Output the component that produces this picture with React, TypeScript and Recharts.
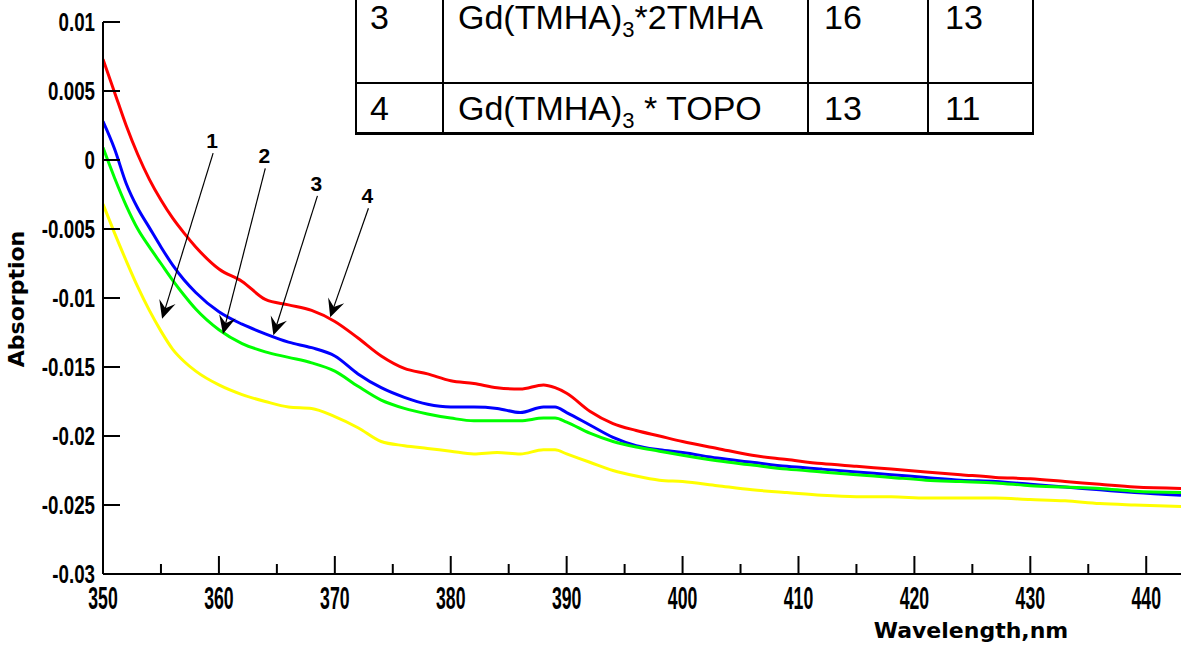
import React from 'react';
import { LineChart, Line, XAxis, YAxis, ReferenceLine } from 'recharts';

const wavelengths = [
  350, 351, 352, 353, 354, 355, 356, 357, 358, 360, 362, 364, 366, 368, 370, 372, 374, 376, 378, 380,
  382, 384, 386, 388, 389, 390, 392, 394, 396, 398, 400, 403, 406, 409, 412, 415, 418, 421, 424, 427,
  430, 433, 436, 439, 443,
];

// curve 1 (yellow)
const curve1 = [
  -0.0032, -0.0053, -0.0073, -0.0092, -0.0109, -0.0124, -0.0137, -0.0146, -0.0153, -0.0163, -0.017,
  -0.0175, -0.0179, -0.018, -0.0186, -0.0194, -0.0204, -0.0207, -0.0209, -0.0211, -0.0213, -0.0212,
  -0.0213, -0.021, -0.021, -0.0213, -0.0219, -0.0225, -0.0229, -0.0232, -0.0233, -0.0236, -0.0239,
  -0.0241, -0.0243, -0.0244, -0.0244, -0.0245, -0.0245, -0.0245, -0.0246, -0.0247, -0.0249, -0.025,
  -0.0251,
];

// curve 2 (green)
const curve2 = [
  0.0009, -0.0013, -0.0033, -0.005, -0.0063, -0.0075, -0.0087, -0.0098, -0.0108, -0.0123, -0.0133,
  -0.0139, -0.0143, -0.0147, -0.0153, -0.0164, -0.0174, -0.018, -0.0184, -0.0187, -0.0189, -0.0189,
  -0.0189, -0.0187, -0.0187, -0.019, -0.0198, -0.0204, -0.0208, -0.0211, -0.0214, -0.0218, -0.0221,
  -0.0224, -0.0226, -0.0228, -0.023, -0.0232, -0.0233, -0.0234, -0.0236, -0.0237, -0.0238, -0.024,
  -0.0241,
];

// curve 3 (blue)
const curve3 = [
  0.0028, 0.0008, -0.0017, -0.0035, -0.0049, -0.0063, -0.0076, -0.0087, -0.0096, -0.011, -0.0119,
  -0.0126, -0.0132, -0.0136, -0.0142, -0.0155, -0.0165, -0.0172, -0.0177, -0.0179, -0.0179, -0.018,
  -0.0183, -0.0179, -0.0179, -0.0183, -0.0192, -0.0201, -0.0207, -0.021, -0.0212, -0.0216, -0.0219,
  -0.0222, -0.0224, -0.0226, -0.0228, -0.023, -0.0232, -0.0233, -0.0235, -0.0237, -0.0239, -0.0241,
  -0.0243,
];

// curve 4 (red)
const curve4 = [
  0.0073, 0.0049, 0.0025, 0.0004, -0.0014, -0.0029, -0.0042, -0.0053, -0.0063, -0.0079, -0.0088,
  -0.0101, -0.0105, -0.0109, -0.0117, -0.0129, -0.0142, -0.0151, -0.0155, -0.016, -0.0162, -0.0165,
  -0.0166, -0.0163, -0.0165, -0.0169, -0.0182, -0.0191, -0.0196, -0.02, -0.0204, -0.0209, -0.0214,
  -0.0217, -0.022, -0.0222, -0.0224, -0.0226, -0.0228, -0.023, -0.0231, -0.0233, -0.0235, -0.0237,
  -0.0238,
];

const xTicks = [350, 355, 360, 365, 370, 375, 380, 385, 390, 395, 400, 405, 410, 415, 420, 425, 430, 435, 440];
const yTicks = [0.01, 0.005, 0, -0.005, -0.01, -0.015, -0.02, -0.025, -0.03];

// arrows pointing at the curves
const arrowLabels = ['1', '2', '3', '4'];
const arrowFromX = [359.5, 364.0, 368.5, 372.9];
const arrowFromY = [0.0005, -0.0006, -0.0026, -0.0035];
const arrowToX = [355.1, 360.35, 364.7, 369.6];
const arrowToY = [-0.0115, -0.0126, -0.0127, -0.0114];

// table in the top right
const tableNo = ['3', '4'];
const tableLigand = ['*2TMHA', ' * TOPO'];
const tableColA = ['16', '13'];
const tableColB = ['13', '11'];

const data = wavelengths.map((w, i) => ({
  w,
  c1: curve1[i],
  c2: curve2[i],
  c3: curve3[i],
  c4: curve4[i],
}));

const tickFont = '"Liberation Sans", Arial, sans-serif';

const XTick = (props: any) => {
  const { x, y, payload } = props;
  const major = payload.value % 10 === 0;
  return (
    <g>
      <line x1={x} y1={y} x2={x} y2={y - (major ? 18 : 10)} stroke="#000" strokeWidth={2} />
      {major && (
        <text
          transform={`translate(${x} ${y + 35}) scale(0.57 1)`}
          textAnchor="middle"
          fontFamily={tickFont}
          fontWeight="bold"
          fontSize={31}
          fill="#000"
        >
          {payload.value}
        </text>
      )}
    </g>
  );
};

const YTick = (props: any) => {
  const { x, y, payload } = props;
  return (
    <g>
      <line x1={x} y1={y} x2={x + 17} y2={y} stroke="#000" strokeWidth={2} />
      <text
        transform={`translate(${x - 8} ${y + 9}) scale(0.75 1)`}
        textAnchor="end"
        fontFamily={tickFont}
        fontWeight="bold"
        fontSize={25}
        fill="#000"
      >
        {String(payload.value)}
      </text>
    </g>
  );
};

const YTitle = (props: any) => {
  const { x, y, width, height } = props.viewBox;
  const cx = x + width - 87;
  const cy = y + height / 2 + 1;
  return (
    <text
      x={cx}
      y={cy}
      transform={`rotate(-90 ${cx} ${cy})`}
      textAnchor="middle"
      dy="0.36em"
      fontFamily='"DejaVu Sans", sans-serif'
      fontWeight="bold"
      fontSize={22}
      fill="#000"
    >
      Absorption
    </text>
  );
};

const XTitle = (props: any) => {
  const { x, y, width } = props.viewBox;
  return (
    <text
      x={x + width - 210}
      y={y + 64}
      textAnchor="middle"
      fontFamily='"DejaVu Sans", sans-serif'
      fontWeight="bold"
      fontSize={22}
      fill="#000"
    >
      Wavelength,nm
    </text>
  );
};

function renderArrow(p: any, label: string) {
  const { x1, y1, x2, y2 } = p;
  const a = Math.atan2(y2 - y1, x2 - x1);
  const deg = (a * 180) / Math.PI;
  const bx = x2 - Math.cos(a) * 10;
  const by = y2 - Math.sin(a) * 10;
  return (
    <g>
      <line x1={x1} y1={y1} x2={bx} y2={by} stroke="#000" strokeWidth={1.2} />
      <polygon points="0,0 -18,-8.5 -11,0 -18,8.5" transform={`translate(${x2} ${y2}) rotate(${deg})`} fill="#000" />
      <text
        x={x1 - 1}
        y={y1 - 5}
        textAnchor="middle"
        fontFamily={tickFont}
        fontWeight="bold"
        fontSize={21}
        fill="#000"
      >
        {label}
      </text>
    </g>
  );
}

const vLines = [356, 443, 808, 928, 1033];
const cellLeft = [370, 458, 824, 945];
const rowTop = [2, 93];

export default function App() {
  return (
    <div
      style={{
        position: 'absolute',
        left: 0,
        top: 0,
        width: 1186,
        height: 645,
        background: '#fff',
        overflow: 'hidden',
      }}
    >
      <LineChart width={1186} height={645} data={data} margin={{ top: 22, right: 5, bottom: 0, left: 0 }}>
        <XAxis
          dataKey="w"
          type="number"
          domain={[350, 443]}
          ticks={xTicks}
          interval={0}
          height={71}
          tickSize={0}
          tickMargin={0}
          tickLine={false}
          axisLine={{ stroke: '#000', strokeWidth: 2 }}
          tick={<XTick />}
          label={{ content: XTitle }}
          allowDataOverflow
        />
        <YAxis
          type="number"
          domain={[-0.03, 0.01]}
          ticks={yTicks}
          interval={0}
          width={103}
          tickSize={0}
          tickMargin={0}
          tickLine={false}
          axisLine={{ stroke: '#000', strokeWidth: 2 }}
          tick={<YTick />}
          label={{ content: YTitle }}
          allowDataOverflow
        />
        <Line type="monotone" dataKey="c3" stroke="#0000ff" strokeWidth={3} dot={false} isAnimationActive={false} />
        <Line type="monotone" dataKey="c2" stroke="#00ff00" strokeWidth={3} dot={false} isAnimationActive={false} />
        <Line type="monotone" dataKey="c4" stroke="#ff0000" strokeWidth={3} dot={false} isAnimationActive={false} />
        <Line type="monotone" dataKey="c1" stroke="#ffff00" strokeWidth={3} dot={false} isAnimationActive={false} />
        {arrowLabels.map((l, i) => (
          <ReferenceLine
            key={l}
            segment={[
              { x: arrowFromX[i], y: arrowFromY[i] },
              { x: arrowToX[i], y: arrowToY[i] },
            ]}
            ifOverflow="visible"
            shape={(p: any) => renderArrow(p, l)}
          />
        ))}
      </LineChart>

      {/* table */}
      <div style={{ position: 'absolute', left: 355, top: -5, width: 679, height: 140, background: '#fff' }} />
      {vLines.map((x) => (
        <div key={x} style={{ position: 'absolute', left: x - 1, top: -5, width: 2, height: 140, background: '#000' }} />
      ))}
      <div style={{ position: 'absolute', left: 355, top: 82, width: 679, height: 2, background: '#000' }} />
      <div style={{ position: 'absolute', left: 355, top: 132, width: 679, height: 3, background: '#000' }} />
      {tableNo.map((n, r) => (
        <React.Fragment key={n}>
          {[n, null, tableColA[r], tableColB[r]].map((txt, c) => (
            <div
              key={c}
              style={{
                position: 'absolute',
                left: cellLeft[c],
                top: rowTop[r],
                fontFamily: tickFont,
                fontSize: 34,
                lineHeight: '30px',
                color: '#000',
                whiteSpace: 'pre',
              }}
            >
              {c === 1 ? (
                <>
                  Gd(TMHA)
                  <span style={{ fontSize: 22, verticalAlign: '-8px', lineHeight: 1 }}>3</span>
                  {tableLigand[r]}
                </>
              ) : (
                txt
              )}
            </div>
          ))}
        </React.Fragment>
      ))}
    </div>
  );
}
